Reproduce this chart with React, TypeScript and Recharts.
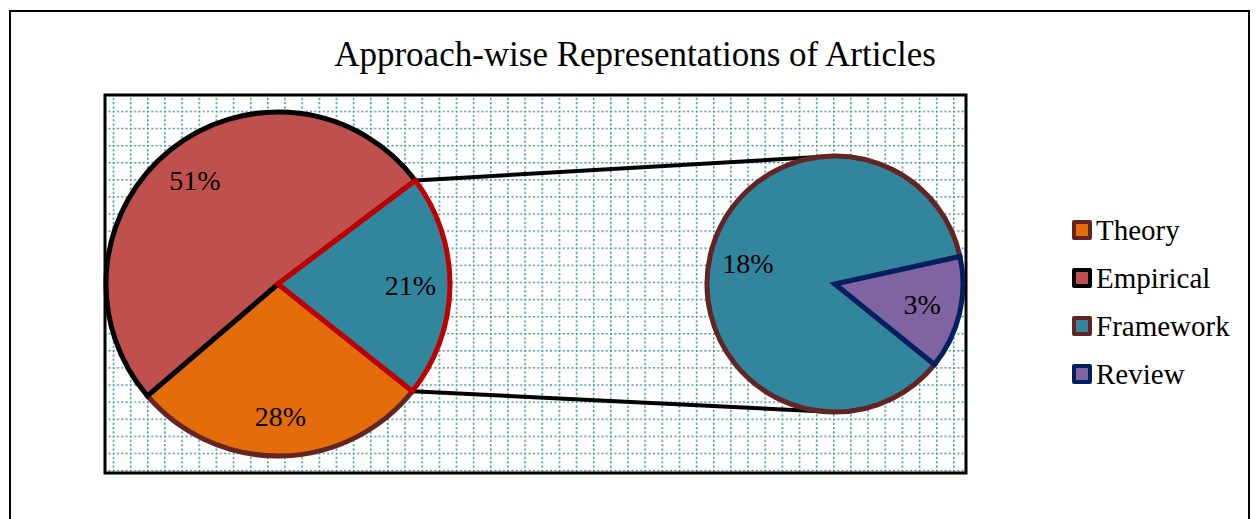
import React from 'react';
import { PieChart, Pie, Cell, Legend } from 'recharts';

const mainNames = ['Theory', 'Empirical', 'Other'];
const mainValues = [28, 51, 21];
const subNames = ['Framework', 'Review'];
const subValues = [18, 3];
const legendNames = ['Theory', 'Empirical', 'Framework', 'Review'];

const FILL: Record<string, string> = {
    Theory: '#E46C0A',
    Empirical: '#C0504D',
    Other: '#31859C',
    Framework: '#31859C',
    Review: '#8064A2',
};
const EDGE: Record<string, string> = {
    Theory: '#632523',
    Empirical: '#000000',
    Other: '#C00000',
    Framework: '#632523',
    Review: '#002060',
};

const mainData = mainNames.map((name, i) => ({ name, value: mainValues[i] }));
const subData = subNames.map((name, i) => ({ name, value: subValues[i] }));

const W = 1258;
const H = 519;
const FONT = '"Liberation Serif", "Times New Roman", serif';
const RAD = Math.PI / 180;

const main = { cx: 278, cy: 284, r: 172, start: 321.4 };
const sub = { cx: 835, cy: 284, r: 128, start: 321 };

const total = mainValues.reduce((a, b) => a + b, 0);
const otherSpan = (mainValues[2] / total) * 360;
const mainEnd = main.start - 360;

const makeLabel = (frac: number) => (props: any) => {
    const { cx, cy, midAngle, outerRadius, value } = props;
    const r = outerRadius * frac;
    const x = cx + r * Math.cos(-midAngle * RAD);
    const y = cy + r * Math.sin(-midAngle * RAD);
    return (
        <text x={x} y={y} textAnchor="middle" dominantBaseline="central" fontFamily={FONT} fontSize={28} fill="#000">
            {`${value}%`}
        </text>
    );
};

const LegendBox = () => (
    <div style={{ fontFamily: FONT, fontSize: 29, color: '#000' }}>
        {legendNames.map((n) => (
            <div key={n} style={{ display: 'flex', alignItems: 'center', height: 48 }}>
                <span style={{ width: 12, height: 12, background: FILL[n], border: `4px solid ${EDGE[n]}`, borderRadius: 2, marginRight: 4 }} />
                <span>{n}</span>
            </div>
        ))}
    </div>
);

const Background = () => {
    // connector lines from the split slice edges to top / bottom of the second pie
    const a1 = (mainEnd + otherSpan) * RAD;
    const a2 = mainEnd * RAD;
    const p1 = [main.cx + main.r * Math.cos(a1), main.cy - main.r * Math.sin(a1)];
    const p2 = [main.cx + main.r * Math.cos(a2), main.cy - main.r * Math.sin(a2)];
    return (
        <svg width={W} height={H} style={{ position: 'absolute', left: 0, top: 0 }}>
            <defs>
                <pattern id="grid" patternUnits="userSpaceOnUse" x={112.7} y={110.7} width={17.15} height={17.1}>
                    <line x1={0.75} y1={0} x2={0.75} y2={17.1} stroke="#3B8BA5" strokeWidth={1.5} strokeDasharray="2 2.3" />
                    <line x1={0} y1={0.75} x2={17.15} y2={0.75} stroke="#3B8BA5" strokeWidth={1.5} strokeDasharray="2 2.3" />
                </pattern>
            </defs>
            <rect x={10} y={11} width={1239} height={H} fill="#fff" stroke="#000" strokeWidth={2} />
            <text x={635} y={54} textAnchor="middle" dominantBaseline="central" fontFamily={FONT} fontSize={35} fill="#000">
                Approach-wise Representations of Articles
            </text>
            <rect x={105} y={95} width={861} height={378} fill="#fff" />
            <rect x={105} y={95} width={861} height={378} fill="url(#grid)" stroke="#000" strokeWidth={3} />
            <line x1={p1[0]} y1={p1[1]} x2={sub.cx} y2={sub.cy - sub.r} stroke="#000" strokeWidth={4} />
            <line x1={p2[0]} y1={p2[1]} x2={sub.cx} y2={sub.cy + sub.r} stroke="#000" strokeWidth={4} />
        </svg>
    );
};

const App: React.FC = () => {
    return (
        <div style={{ position: 'absolute', left: 0, top: 0, width: W, height: H }}>
            <Background />
            <div style={{ position: 'absolute', left: 0, top: 0 }}>
                <PieChart width={W} height={H} margin={{ top: 0, right: 0, bottom: 0, left: 0 }}>
                    <Pie
                        data={mainData}
                        dataKey="value"
                        nameKey="name"
                        cx={main.cx}
                        cy={main.cy}
                        outerRadius={main.r}
                        startAngle={main.start}
                        endAngle={mainEnd}
                        label={makeLabel(0.77)}
                        labelLine={false}
                        isAnimationActive={false}
                    >
                        {mainData.map((d) => (
                            <Cell key={d.name} fill={FILL[d.name]} stroke={EDGE[d.name]} strokeWidth={5} />
                        ))}
                    </Pie>
                    <Pie
                        data={subData}
                        dataKey="value"
                        nameKey="name"
                        cx={sub.cx}
                        cy={sub.cy}
                        outerRadius={sub.r}
                        startAngle={sub.start}
                        endAngle={sub.start - 360}
                        label={makeLabel(0.7)}
                        labelLine={false}
                        isAnimationActive={false}
                    >
                        {subData.map((d) => (
                            <Cell key={d.name} fill={FILL[d.name]} stroke={EDGE[d.name]} strokeWidth={5} />
                        ))}
                    </Pie>
                    <Legend
                        content={<LegendBox />}
                        layout="vertical"
                        wrapperStyle={{ position: 'absolute', left: 1072, top: 206, width: 186 }}
                    />
                </PieChart>
            </div>
        </div>
    );
};

export default App;
